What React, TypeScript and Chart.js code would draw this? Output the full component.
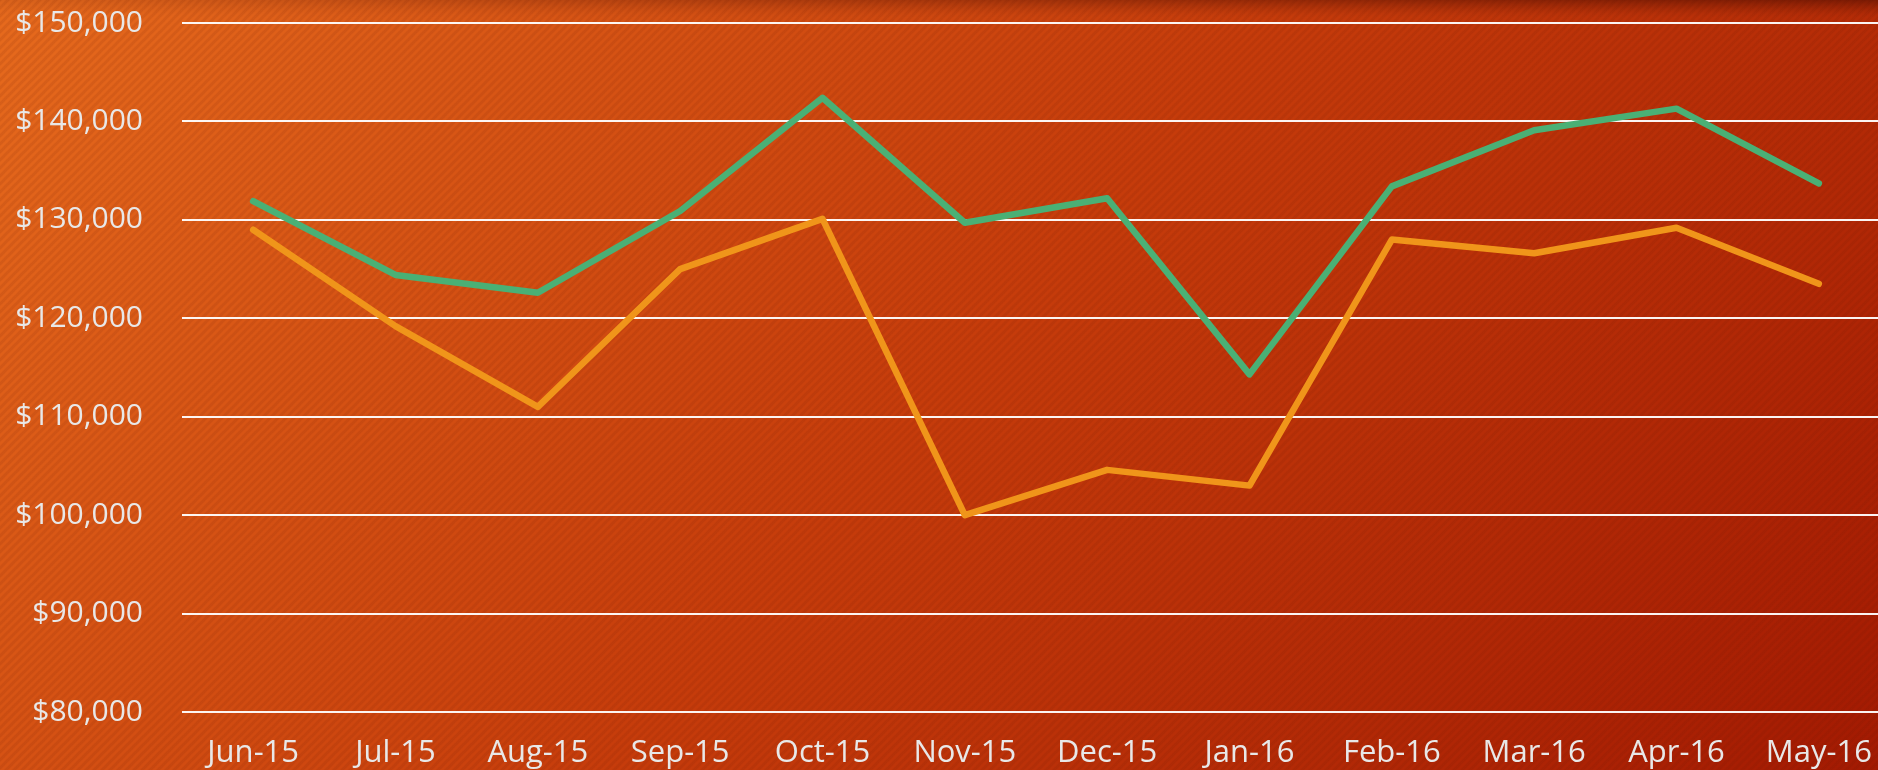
import React, { useEffect, useRef } from "react";
import { Chart, registerables } from "chart.js";

Chart.register(...registerables);

const categories = ["Jun-15", "Jul-15", "Aug-15", "Sep-15", "Oct-15", "Nov-15", "Dec-15", "Jan-16", "Feb-16", "Mar-16", "Apr-16", "May-16"];
const greenSeries = [131900, 124400, 122600, 130900, 142400, 129700, 132200, 114300, 133400, 139100, 141300, 133700];
const orangeSeries = [129000, 119200, 111000, 125000, 130100, 100000, 104600, 103000, 128000, 126600, 129200, 123500];
const yMin = 80000;
const yMax = 150000;
const yStep = 10000;

const FONT = "'Open Sans', 'DejaVu Sans', sans-serif";

const bgPlugin = {
  id: "bgPlugin",
  beforeDraw(chart: any) {
    const { ctx, width, height } = chart;
    ctx.save();
    const g = ctx.createLinearGradient(0, 0, 1449, 1263);
    g.addColorStop(0, "#E66A1D");
    g.addColorStop(0.5, "#C63C0B");
    g.addColorStop(1, "#A31A02");
    ctx.fillStyle = g;
    ctx.fillRect(0, 0, width, height);

    const p = document.createElement("canvas");
    p.width = 8;
    p.height = 8;
    const pc = p.getContext("2d")!;
    pc.strokeStyle = "rgba(100,20,0,0.10)";
    pc.lineWidth = 3;
    pc.beginPath();
    pc.moveTo(-2, 10); pc.lineTo(10, -2);
    pc.moveTo(-2, 2); pc.lineTo(2, -2);
    pc.moveTo(6, 10); pc.lineTo(10, 6);
    pc.stroke();
    const pat = ctx.createPattern(p, "repeat");
    if (pat) {
      ctx.fillStyle = pat;
      ctx.fillRect(0, 0, width, height);
    }

    const rows = 18;
    for (let y = 0; y < rows; y++) {
      const a = Math.pow(1 - y / rows, 1.6);
      const hg = ctx.createLinearGradient(0, 0, width, 0);
      hg.addColorStop(0, `rgba(70,10,0,${0.08 * a})`);
      hg.addColorStop(1, `rgba(70,10,0,${0.5 * a})`);
      ctx.fillStyle = hg;
      ctx.fillRect(0, y, width, 1);
    }
    ctx.restore();
  },
};

export default function App() {
  const ref = useRef<HTMLCanvasElement | null>(null);

  useEffect(() => {
    document.body.style.margin = "0";
    document.body.style.overflow = "hidden";
    const canvas = ref.current!;
    const chart = new Chart(canvas, {
      type: "line",
      data: {
        labels: categories,
        datasets: [
          {
            label: "Series A",
            data: orangeSeries,
            borderColor: "#F0951A",
            borderWidth: 6.5,
            pointRadius: 0,
            tension: 0,
            borderJoinStyle: "round",
            borderCapStyle: "round",
            fill: false,
          },
          {
            label: "Series B",
            data: greenSeries,
            borderColor: "#4AB075",
            borderWidth: 6.5,
            pointRadius: 0,
            tension: 0,
            borderJoinStyle: "round",
            borderCapStyle: "round",
            fill: false,
          },
        ],
      },
      options: {
        responsive: false,
        animation: false,
        layout: { padding: { top: 23, left: 0, right: 0, bottom: 0 } },
        plugins: {
          legend: { display: false },
          tooltip: { enabled: false },
        },
        scales: {
          x: {
            type: "category",
            offset: true,
            grid: { display: false, drawTicks: false },
            border: { display: false },
            afterFit: (scale: any) => {
              scale.height = 58;
              scale.paddingLeft = 0;
              scale.paddingRight = 0;
            },
            ticks: {
              color: "#E8E8E8",
              font: { family: FONT, size: 31 },
              padding: 23,
              maxRotation: 0,
              autoSkip: false,
            },
          },
          y: {
            min: yMin,
            max: yMax,
            grid: { color: "rgba(255,255,255,0.95)", lineWidth: 2, drawTicks: false },
            border: { display: false },
            afterFit: (scale: any) => {
              scale.width = 182;
              scale.paddingTop = 0;
              scale.paddingBottom = 0;
            },
            ticks: {
              stepSize: yStep,
              color: "#E8E8E8",
              font: { family: FONT, size: 30 },
              padding: 39,
              callback: (v: any) => "$" + Number(v).toLocaleString("en-US"),
            },
          },
        },
      },
      plugins: [bgPlugin],
    });
    return () => chart.destroy();
  }, []);

  return (
    <div style={{ width: 1878, height: 770, overflow: "hidden" }}>
      <canvas ref={ref} width={1890} height={770} style={{ display: "block", width: 1890, height: 770 }} />
    </div>
  );
}
